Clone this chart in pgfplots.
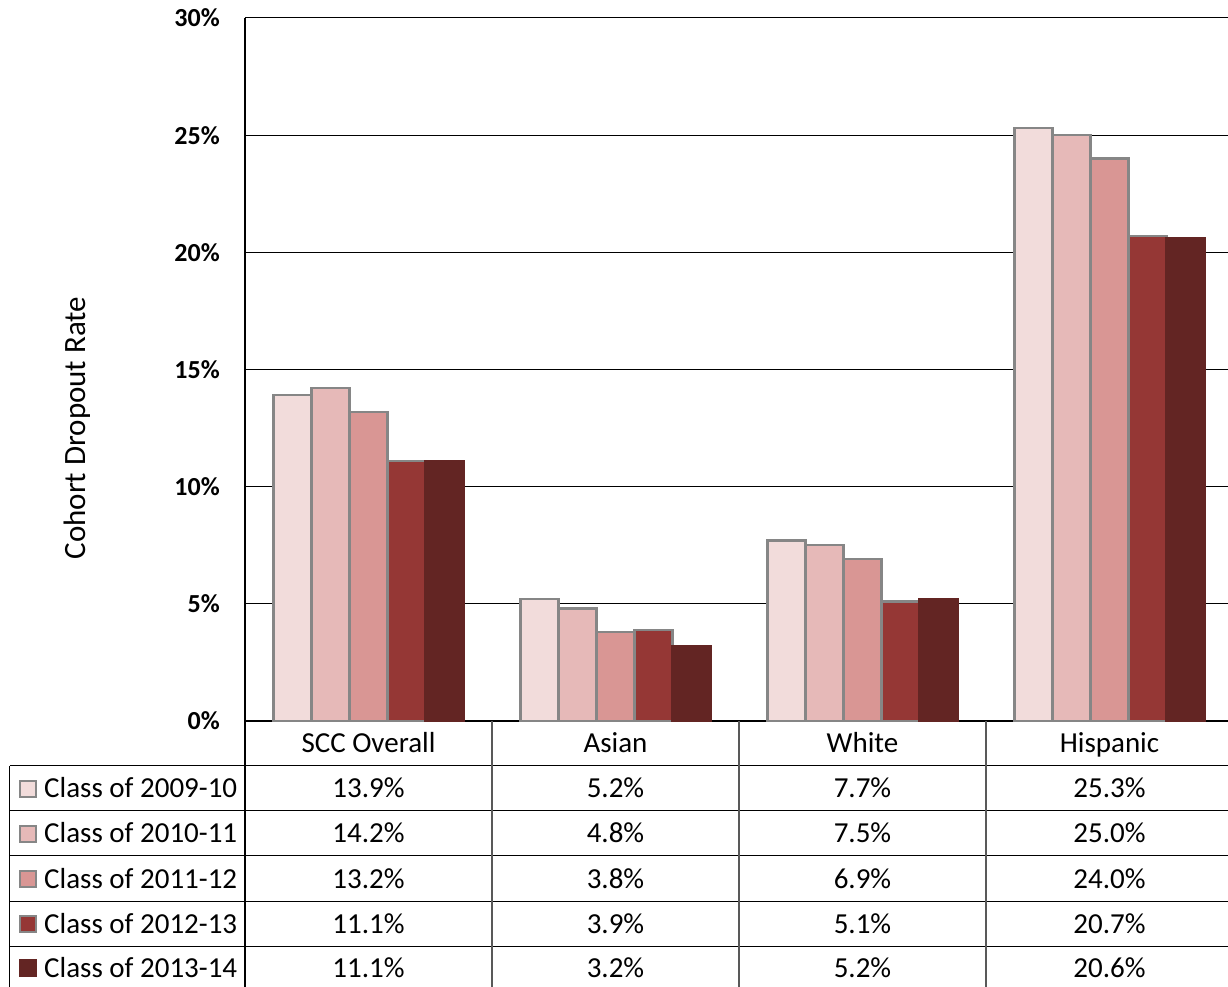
\documentclass[border=0pt]{standalone}
\usepackage{fontspec}
\setmainfont{Carlito}
\usepackage{pgfplots}
\pgfplotsset{compat=1.18}
\definecolor{cA}{HTML}{F2DCDB}
\definecolor{cB}{HTML}{E6B9B8}
\definecolor{cC}{HTML}{D99694}
\definecolor{cD}{HTML}{953735}
\definecolor{cE}{HTML}{632523}
\definecolor{bord}{HTML}{868686}
\begin{document}
\begin{tikzpicture}[x=1pt,y=1pt]
\path[use as bounding box] (-245,-266) rectangle (983,721);
\begin{axis}[
  at={(0,0)}, anchor=south west,
  scale only axis, width=988pt, height=703pt,
  xmin=-0.5, xmax=3.5, ymin=0, ymax=30,
  ybar=0pt, bar width=38pt,
  xtick=\empty,
  ytick={0,5,10,15,20,25,30},
  yticklabels={0\%,5\%,10\%,15\%,20\%,25\%,30\%},
  yticklabel style={font=\fontsize{26}{30}\selectfont\bfseries, anchor=east, inner sep=0pt, xshift=-25pt},
  major tick length=0pt,
  ymajorgrids, grid style={black, line width=1pt},
  axis lines*=left,
  axis line style={black, line width=1.3pt},
  clip=false,
  every axis plot/.append style={line width=2.2pt},
]
\addplot[fill=cA, draw=bord] coordinates {(0,13.9) (1,5.2) (2,7.7) (3,25.3)};
\addplot[fill=cB, draw=bord] coordinates {(0,14.2) (1,4.8) (2,7.5) (3,25.0)};
\addplot[fill=cC, draw=bord] coordinates {(0,13.2) (1,3.8) (2,6.9) (3,24.0)};
\addplot[fill=cD, draw=bord] coordinates {(0,11.1) (1,3.9) (2,5.1) (3,20.7)};
\addplot[fill=cE, draw=cE] coordinates {(0,11.1) (1,3.2) (2,5.2) (3,20.6)};
\end{axis}
% y axis title
\node[rotate=90, font=\fontsize{31}{36}\selectfont] at (-168,293) {Cohort Dropout Rate};
% data table lines
\foreach \yy in {-45,-90,-135,-180,-225} {\draw[black, line width=1pt] (-235,\yy) -- (988,\yy);}
\draw[black, line width=1.3pt] (0,0) -- (0,-266);
\draw[black, line width=1pt] (-235,-45) -- (-235,-266);
\foreach \xx in {247,494,741} {\draw[black!65, line width=1.2pt] (\xx,0) -- (\xx,-266);}
% category labels
\begin{scope}[every node/.style={font=\fontsize{29}{34}\selectfont, inner sep=0pt, anchor=base}]
\node at (123.5,-32) {SCC Overall};
\node at (370.5,-32) {Asian};
\node at (617.5,-32) {White};
\node at (864.5,-32) {Hispanic};
% values
\node at (123.5,-77) {13.9\%}; \node at (370.5,-77) {5.2\%}; \node at (617.5,-77) {7.7\%}; \node at (864.5,-77) {25.3\%};
\node at (123.5,-122) {14.2\%}; \node at (370.5,-122) {4.8\%}; \node at (617.5,-122) {7.5\%}; \node at (864.5,-122) {25.0\%};
\node at (123.5,-167) {13.2\%}; \node at (370.5,-167) {3.8\%}; \node at (617.5,-167) {6.9\%}; \node at (864.5,-167) {24.0\%};
\node at (123.5,-212) {11.1\%}; \node at (370.5,-212) {3.9\%}; \node at (617.5,-212) {5.1\%}; \node at (864.5,-212) {20.7\%};
\node at (123.5,-256) {11.1\%}; \node at (370.5,-256) {3.2\%}; \node at (617.5,-256) {5.2\%}; \node at (864.5,-256) {20.6\%};
% legend labels
\node[anchor=base west] at (-201,-77) {Class of 2009-10};
\node[anchor=base west] at (-201,-122) {Class of 2010-11};
\node[anchor=base west] at (-201,-167) {Class of 2011-12};
\node[anchor=base west] at (-201,-212) {Class of 2012-13};
\node[anchor=base west] at (-201,-256) {Class of 2013-14};
\end{scope}
% legend keys
\draw[fill=cA, draw=bord, line width=2pt] (-224.5,-76) rectangle ++(16,16);
\draw[fill=cB, draw=bord, line width=2pt] (-224.5,-121) rectangle ++(16,16);
\draw[fill=cC, draw=bord, line width=2pt] (-224.5,-166) rectangle ++(16,16);
\draw[fill=cD, draw=bord, line width=2pt] (-224.5,-211) rectangle ++(16,16);
\draw[fill=cE, draw=cE, line width=2pt] (-224.5,-255) rectangle ++(16,16);
\end{tikzpicture}
\end{document}
